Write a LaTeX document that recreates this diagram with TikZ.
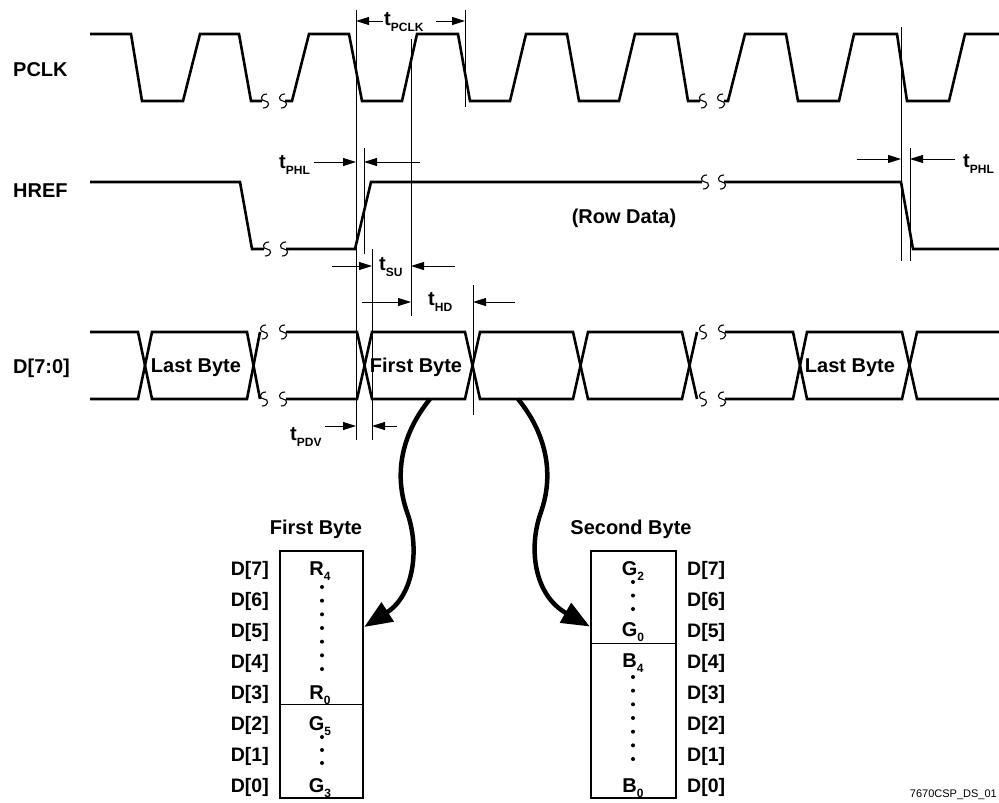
\documentclass[tikz,border=0pt]{standalone}
\usepackage{fontspec}
\setmainfont{Liberation Sans}
\usetikzlibrary{arrows.meta}

\newcommand\tsub[1]{{\fontsize{20}{20}\selectfont t}\raisebox{-6pt}{\fontsize{12}{12}\selectfont #1}}
\newcommand\bitsub[2]{#1\raisebox{-5pt}{\fontsize{12}{12}\selectfont #2}}

\tikzset{brk/.pic={\draw[line width=1.1pt] (2,-7) .. controls (-5,-7) and (-5,0) .. (0,0) .. controls (5,0) and (5,7) .. (-2,7);}}

\begin{document}
\begin{tikzpicture}[x=1pt, y=-1pt,
    every node/.style={font=\fontsize{20}{20}\selectfont\bfseries, inner sep=0pt},
    wave/.style={line width=2.6pt},
    guide/.style={line width=0.9pt},
    tarrow/.style={line width=0.9pt, -{Triangle[length=13pt,width=8pt]}},
    bigarrow/.style={line width=4.5pt, -{Triangle[length=28pt,width=22pt]}},
    byte box/.style={draw, line width=2.4pt, minimum height=247pt},
    bitname/.style={anchor=base, font=\fontsize{20}{20}\selectfont\bfseries},
    bit label/.style={font=\fontsize{19.5}{19.5}\selectfont\bfseries}]

\useasboundingbox (0,0) rectangle (999,803);

% signal names
\node[anchor=base west] (pclk) at (13,76) {PCLK};
\node[anchor=base west] (href) at (13,197) {HREF};
\node[anchor=base west] (data) at (13,373) {D[7:0]};

% PCLK
\draw[wave] (90,34) -- (131,34) -- (142,101) -- (183,101) -- (200,34) -- (239,34) -- (251,101) -- (262,101);
\draw[wave] (285,101) -- (292,101) -- (309,34) -- (349,34) -- (362,101) -- (402,101) -- (417,34) -- (458,34) -- (470,101) -- (510,101) -- (526,34) -- (567,34) -- (579,101) -- (619,101) -- (635,34) -- (677,34) -- (688,101) -- (700,101);
\draw[wave] (724,101) -- (728,101) -- (745,34) -- (786,34) -- (798,101) -- (839,101) -- (854,34) -- (897,34) -- (907,101) -- (949,101) -- (965,34) -- (999,34);
\pic at (265,101) {brk}; \pic at (283,101) {brk};
\pic at (703,101) {brk}; \pic at (721,101) {brk};

% HREF
\draw[wave] (90,182) -- (240,182) -- (252,249) -- (264,249);
\draw[wave] (286,249) -- (355,249) -- (371,182) -- (702,182);
\draw[wave] (724,182) -- (901,182) -- (913,249) -- (999,249);
\pic at (267,249) {brk}; \pic at (284,249) {brk};
\pic at (705,182) {brk}; \pic at (722,182) {brk};
\node[anchor=base] (rowdata) at (624,223) {(Row Data)};

% D[7:0]
\foreach \ya/\yb in {332/399, 399/332} {
  \draw[wave] (90,\ya) -- (138,\ya) -- (152,\yb) -- (247,\yb) -- (260,\ya);
  \draw[wave] (286,\ya) -- (357,\ya) -- (372,\yb) -- (465,\yb) -- (480,\ya) -- (573,\ya) -- (588,\yb) -- (682,\yb) -- (697,\ya);
  \draw[wave] (725,\ya) -- (793,\ya) -- (807,\yb) -- (902,\yb) -- (917,\ya) -- (999,\ya);
  \pic at (264,\ya) {brk}; \pic at (283,\ya) {brk};
  \pic at (703,\ya) {brk}; \pic at (722,\ya) {brk};
}
\node[anchor=base] (last1) at (196,372) {Last Byte};
\node[anchor=base] (first) at (416,372) {First Byte};
\node[anchor=base] (last2) at (850,372) {Last Byte};

% timing guides
\draw[guide] (356,10) -- (356,440);
\draw[guide] (465,10) -- (465,107);
\draw[guide] (411,39) -- (411,316);
\draw[guide] (364,148) -- (364,254);
\draw[guide] (372,249) -- (372,440);
\draw[guide] (473,285) -- (473,415);
\draw[guide] (901,27) -- (901,261);
\draw[guide] (910,148) -- (910,261);

\node[anchor=base west] (tpclk) at (384,25) {\tsub{PCLK}};
\node[anchor=base west] (tphl) at (279,168) {\tsub{PHL}};
\node[anchor=base west] (tsu) at (379,270) {\tsub{SU}};
\node[anchor=base west] (thd) at (428,305) {\tsub{HD}};
\node[anchor=base west] (tpdv) at (290,440) {\tsub{PDV}};
\node[anchor=base west] (tphlb) at (963,167) {\tsub{PHL}};

\foreach \n/\xa/\xb/\y in {pclkl/383/356/21, pclkr/436/465/21,
    phll/314/356/162, phlr/420/364/162, sul/332/372/266, sur/455/411/266,
    hdl/362/411/302, hdr/515/473/302, pdvl/325/356/426, pdvr/397/372/426,
    phlbl/857/901/159, phlbr/955/910/159} {
  \coordinate (\n-a) at (\xa,\y);
  \coordinate (\n-b) at (\xb,\y);
  \draw[tarrow] (\n-a) -- (\n-b);
}

% byte maps
\node[byte box, minimum width=83pt] (firstbox) at (321.5,674.5) {};
\node[byte box, minimum width=85pt] (secondbox) at (633.5,674.5) {};
\draw[guide] (280,704.5) -- (363,704.5);
\draw[guide] (591,643) -- (676,643);
\node[anchor=base] (firsttitle) at (316,534) {First Byte};
\node[anchor=base] (secondtitle) at (631,534) {Second Byte};

\foreach \k in {7,6,5,4,3,2,1,0} {
  \node[bit label, anchor=base east] (dl\k) at (269,{575+31*(7-\k)}) {D[\k]};
  \node[bit label, anchor=base west] (dr\k) at (687,{575+31*(7-\k)}) {D[\k]};
}

\node[bitname] (r4) at (320,575) {\bitsub{R}{4}};
\node[bitname] (r0) at (320,699) {\bitsub{R}{0}};
\node[bitname] (g5) at (320,730) {\bitsub{G}{5}};
\node[bitname] (g3) at (320,792) {\bitsub{G}{3}};
\node[bitname] (g2) at (633,575) {\bitsub{G}{2}};
\node[bitname] (g0) at (633,636) {\bitsub{G}{0}};
\node[bitname] (b4) at (633,667) {\bitsub{B}{4}};
\node[bitname] (b0) at (633,792) {\bitsub{B}{0}};
\foreach \i in {0,...,6} {
  \fill (322,{587+13.67*\i}) circle (2pt);
  \fill (633,{677+13.67*\i}) circle (2pt);
}
\foreach \i in {0,1,2} {
  \fill (322,{737+13*\i}) circle (2pt);
  \fill (633,{582+13.5*\i}) circle (2pt);
}

\coordinate (firstsrc) at (430,399);
\coordinate (secondsrc) at (518,399);
\draw[bigarrow] (firstsrc) .. controls (403,432) and (393,472) .. (407,512) .. controls (420,548) and (414,595) .. ([yshift=47.5pt]firstbox.east);
\draw[bigarrow] (secondsrc) .. controls (545,432) and (555,472) .. (541,512) .. controls (528,548) and (534,595) .. ([yshift=48pt]secondbox.west);

\node[anchor=base east, font=\fontsize{11}{11}\selectfont] (figid) at (997,797) {7670CSP\_DS\_01};
\end{tikzpicture}
\end{document}
